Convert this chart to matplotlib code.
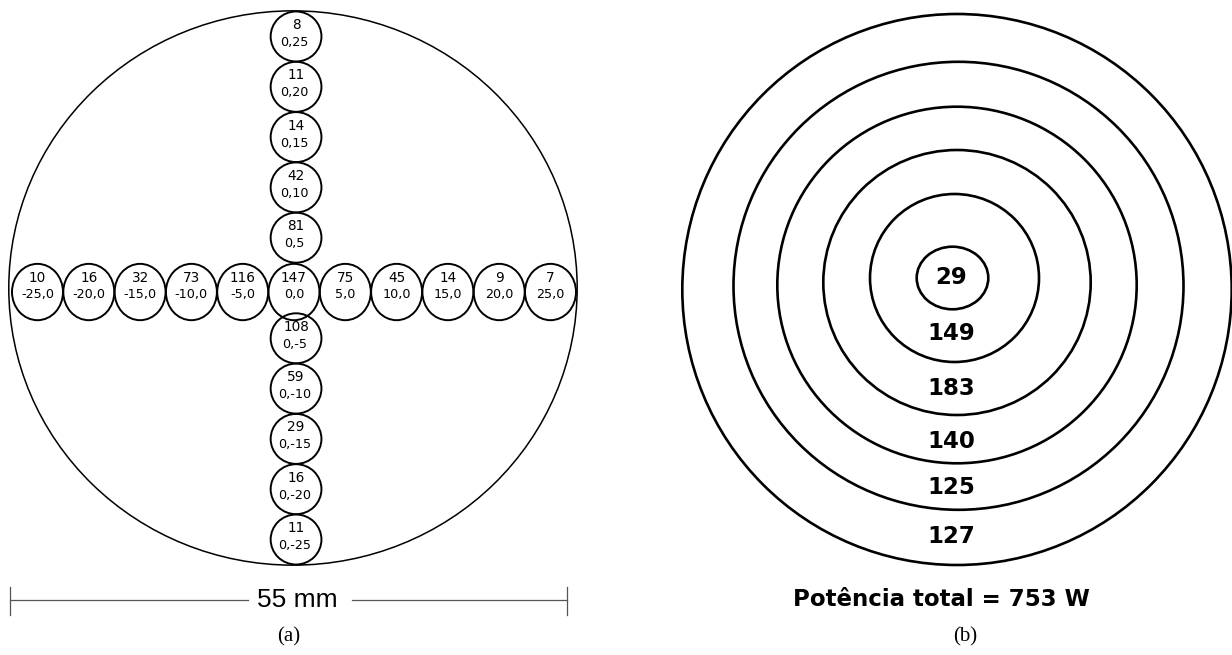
import matplotlib
matplotlib.use("Agg")
import matplotlib.pyplot as plt
from matplotlib.patches import Ellipse

# data: power (W) measured at each point, positions in mm
row_x = [-25, -20, -15, -10, -5, 0, 5, 10, 15, 20, 25]
row_power = [10, 16, 32, 73, 116, 147, 75, 45, 14, 9, 7]
col_y = [25, 20, 15, 10, 5, -5, -10, -15, -20, -25]
col_power = [8, 11, 14, 42, 81, 108, 59, 29, 16, 11]
diameter_mm = 55
ring_power = [29, 149, 183, 140, 125, 127]
total_power = 753

fig = plt.figure(figsize=(12.32, 6.55), dpi=100)

# ---- (a) cross of measuring points ----
sx, sy = 10.26, 10.06          # px per mm
ox, oy = 294, 288              # origin in px
ax = fig.add_axes([0, 0, 600 / 1232, 1])
ax.set_xlim(-ox / sx, (600 - ox) / sx)
ax.set_ylim((oy - 655) / sy, oy / sy)
ax.axis("off")

ax.add_patch(Ellipse((-0.1, 0), 55.4, 55.1, fill=False, lw=1.1, ec="black"))

row_dy = -0.4
for x, p in zip(row_x, row_power):
    ax.add_patch(Ellipse((x, row_dy), 4.97, 5.6, fill=False, lw=1.4, ec="black", zorder=3))
    ax.text(x, row_dy + 1.4, str(p), ha="center", va="center", fontsize=9.8)
    ax.text(x, row_dy - 0.2, f"{x},0", ha="center", va="center", fontsize=9.2)

col_x = 0.2
for y, p in zip(col_y, col_power):
    ax.add_patch(Ellipse((col_x, y), 4.95, 4.97, fill=False, lw=1.4, ec="black", zorder=3))
    ax.text(col_x, y + 1.15, str(p), ha="center", va="center", fontsize=9.8)
    ax.text(col_x - 0.15, y - 0.6, f"0,{y}", ha="center", va="center", fontsize=9.2)

# scale bar
bar_y = -31.05
bar_l, bar_r = -27.72, 26.6
gap_l, gap_r = -4.48, 5.65
ax.plot([bar_l, gap_l], [bar_y, bar_y], color="#555555", lw=0.9)
ax.plot([gap_r, bar_r], [bar_y, bar_y], color="#555555", lw=0.9)
for bx in (bar_l, bar_r):
    ax.plot([bx, bx], [-29.72, -32.5], color="#555555", lw=0.9)
ax.text(0.36, bar_y, f"{diameter_mm} mm", ha="center", va="center",
        fontsize=19, family="Liberation Sans")
ax.text(-0.5, -34.7, "(a)", ha="center", va="center", fontsize=15, family="Liberation Serif")

# ---- (b) concentric rings ----
bx_ax = fig.add_axes([600 / 1232, 0, 632 / 1232, 1])
bx_ax.set_xlim(600, 1232)
bx_ax.set_ylim(655, 0)
bx_ax.axis("off")

# ring geometry (px): centre x, centre y, half width, half height
rings = [(957, 289.5, 274.7, 275.5),
         (958.5, 285.8, 225, 224),
         (957, 285, 179.7, 178.3),
         (957, 282.5, 133.7, 132.5),
         (954.5, 278, 84.5, 84),
         (952.5, 278, 35.8, 31.3)]
for cx, cy, rx, ry in rings:
    bx_ax.add_patch(Ellipse((cx, cy), 2 * rx, 2 * ry, fill=False, lw=1.9, ec="black"))

label_y = [277.7, 333.3, 388.3, 441.7, 487.3, 536.7]
for p, ly in zip(ring_power, label_y):
    bx_ax.text(951, ly, str(p), ha="center", va="center", fontsize=16.5,
               fontweight="bold", family="DejaVu Sans")

bx_ax.text(941.5, 599.3, f"Potência total = {total_power} W", ha="center", va="center",
           fontsize=16.5, fontweight="bold", family="DejaVu Sans")
bx_ax.text(965, 637, "(b)", ha="center", va="center", fontsize=15, family="Liberation Serif")

fig.savefig("out.png", dpi=100)
